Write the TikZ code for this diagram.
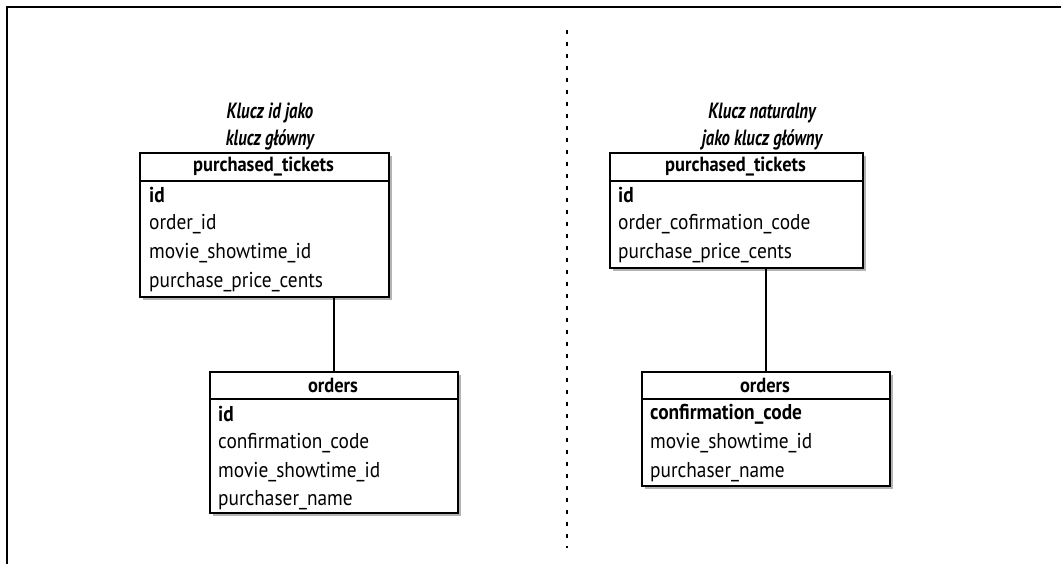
\documentclass[tikz,border=0pt]{standalone}
\usepackage{fontspec}
\setmainfont{PT Sans}[FakeStretch=0.9]
\newfontfamily\ttlfont{PT Sans}[FakeStretch=0.76]
\usetikzlibrary{shadows}
\begin{document}
\begin{tikzpicture}[x=1pt,y=-1pt,
  tbl/.style={draw,line width=1.6pt,fill=white,inner sep=0pt,anchor=north west,
    drop shadow={shadow xshift=3pt,shadow yshift=-3.5pt,opacity=0.6}},
  hdr/.style={inner sep=0pt,font=\fontsize{20.5}{24}\selectfont\bfseries},
  row/.style={inner sep=0pt,anchor=west,font=\fontsize{21.5}{24}\selectfont},
  ttl/.style={inner sep=0pt,align=center,font=\ttlfont\fontsize{22}{27}\selectfont\bfseries\itshape},
  rule/.style={line width=1.6pt},
  link/.style={line width=1.6pt}]
\useasboundingbox (0,0) rectangle (1061,564);
% frame
\draw[line width=2.6pt] (7,564) -- (7,7) -- (1061,7);
% divider
\coordinate (dtop) at (567,30);
\coordinate (dbot) at (567,548);
\draw[line width=1.8pt,dash pattern=on 4pt off 8pt] (dtop) -- (dbot);

% ---------- left ----------
\node[ttl] (lt) at (270,127) {Klucz id jako\\klucz główny};
\node[tbl,minimum width=249pt,minimum height=144pt] (lpt) at (139,152) {};
\draw[rule] ([yshift=-29pt]lpt.north west) -- ([yshift=-29pt]lpt.north east);
\node[hdr] (lpth) at (263.5,166.5) {purchased\_tickets};
\node[row] (lpt1) at (149,195) {\textbf{id}};
\node[row] (lpt2) at (149,224) {order\_id};
\node[row] (lpt3) at (149,253) {movie\_showtime\_id};
\node[row] (lpt4) at (149,282) {purchase\_price\_cents};

\node[tbl,minimum width=248pt,minimum height=141pt] (lo) at (209,371) {};
\draw[rule] ([yshift=-28pt]lo.north west) -- ([yshift=-28pt]lo.north east);
\node[hdr] (loh) at (333,385) {orders};
\node[row] (lo1) at (218,414) {\textbf{id}};
\node[row] (lo2) at (218,443) {confirmation\_code};
\node[row] (lo3) at (218,472) {movie\_showtime\_id};
\node[row] (lo4) at (218,500) {purchaser\_name};
\draw[link] (lo.north) -- (lo.north |- lpt.south);

% ---------- right ----------
\node[ttl] (rt) at (762,127) {Klucz naturalny\\jako klucz główny};
\node[tbl,minimum width=253pt,minimum height=115pt] (rpt) at (609,152) {};
\draw[rule] ([yshift=-29pt]rpt.north west) -- ([yshift=-29pt]rpt.north east);
\node[hdr] (rpth) at (735.5,166.5) {purchased\_tickets};
\node[row] (rpt1) at (618,195) {\textbf{id}};
\node[row] (rpt2) at (618,224) {order\_cofirmation\_code};
\node[row] (rpt3) at (618,253) {purchase\_price\_cents};

\node[tbl,minimum width=248pt,minimum height=114pt] (ro) at (641,371) {};
\draw[rule] ([yshift=-28pt]ro.north west) -- ([yshift=-28pt]ro.north east);
\node[hdr] (roh) at (765,385) {orders};
\node[row] (ro1) at (650,414) {\textbf{confirmation\_code}};
\node[row] (ro2) at (650,443) {movie\_showtime\_id};
\node[row] (ro3) at (650,472) {purchaser\_name};
\draw[link] (ro.north) -- (ro.north |- rpt.south);
\end{tikzpicture}
\end{document}
